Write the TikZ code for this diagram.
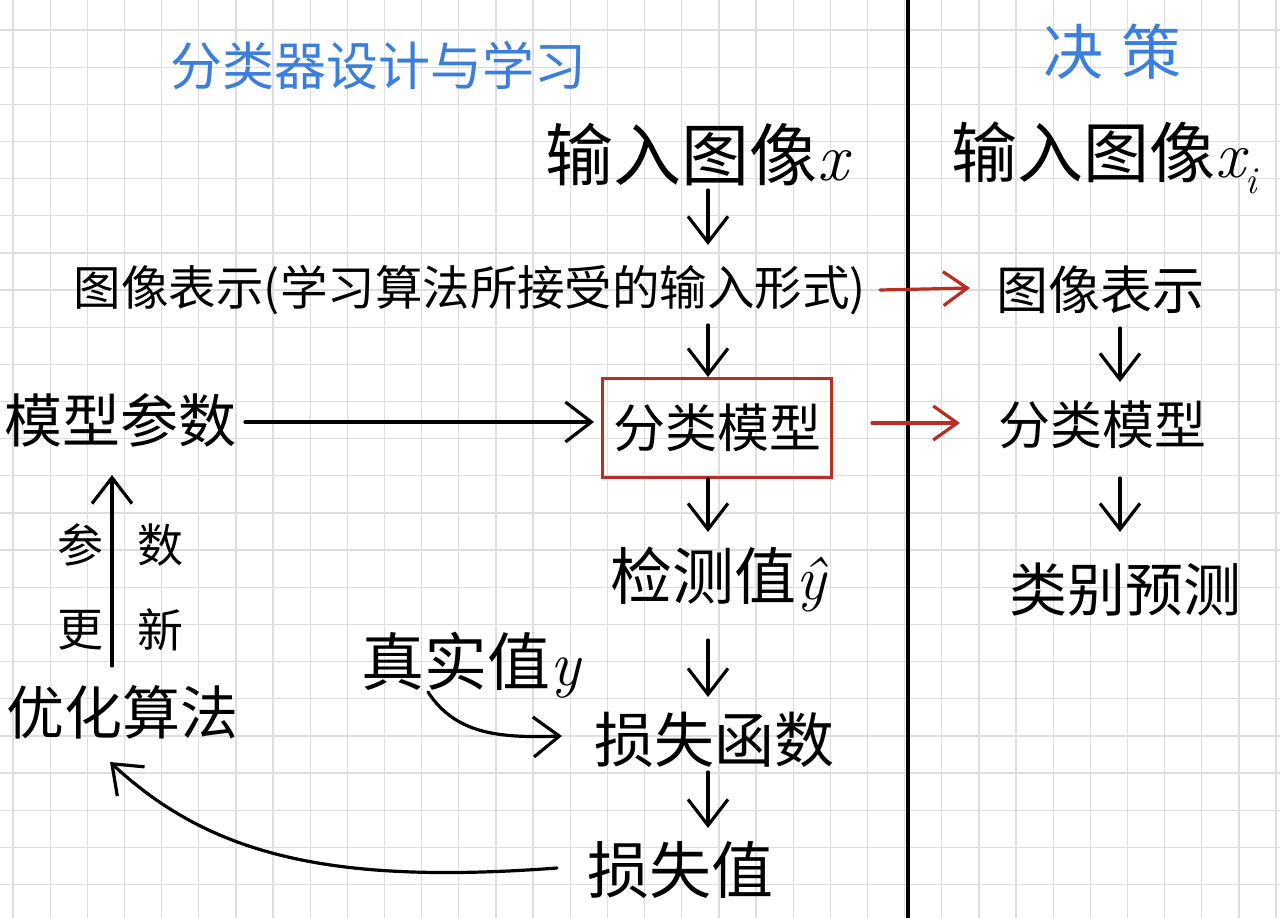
\RequirePackage{fix-cm}
\documentclass[tikz,border=0pt]{standalone}
\usepackage{fontspec}
\newfontfamily\cjk{Noto Sans CJK SC}
\usetikzlibrary{arrows.meta,calc}
\definecolor{hblue}{RGB}{58,126,222}
\definecolor{hred}{RGB}{185,45,35}
\definecolor{gridc}{RGB}{222,222,226}
\begin{document}
\begin{tikzpicture}[x=1pt,y=-1pt,
  fs/.style={font=\cjk\fontsize{#1}{#1}\selectfont, inner sep=0pt},
  ttl/.style={fs=#1, text=hblue},
  arr/.style={draw=black, line width=3.2pt, line cap=round, -{Straight Barb[length=26pt,width=40pt]}},
  rarr/.style={draw=hred, line width=3.2pt, line cap=round, -{Straight Barb[length=24pt,width=34pt]}},
  gridline/.style={draw=gridc, line width=1.3pt},
]
\useasboundingbox (0,0) rectangle (1280,918);
\fill[white] (0,0) rectangle (1280,918);
\foreach \i in {0,...,34} \draw[gridline] ({13+37.15*\i},0) -- ({13+37.15*\i},918);
\foreach \j in {0,...,24} \draw[gridline] (0,{30+37.15*\j}) -- (1280,{30+37.15*\j});
\draw[line width=3.5pt] (908,0) -- (908,918);

% titles
\node[ttl=52] (title) at (378,66) {分类器设计与学习};
\node[ttl=60] (dec) at (1112,52) {决\hspace{18pt}策};

% left column
\node[fs=68] (inx) at (697,155) {输入图像{\rmfamily\itshape x}};
\node[fs=47.5] (rep) at (470,290) {图像表示(学习算法所接受的输入形式)};
\node[fs=52, draw=hred, line width=3pt, minimum width=229pt, minimum height=99pt] (box) at (717,428) {分类模型};
\node[fs=58] (par) at (121,420) {模型参数};
\node[fs=62] (det) at (718,580) {检测值{\rmfamily\itshape ŷ}};
\node[fs=63] (tru) at (471,665) {真实值{\rmfamily\itshape y}};
\node[fs=60] (lossf) at (714,740) {损失函数};
\node[fs=62] (lossv) at (680,870) {损失值};
\node[fs=58] (opt) at (122,712) {优化算法};
\node[fs=46] (u1) at (80,545) {参};
\node[fs=46] (u2) at (160,545) {数};
\node[fs=46] (u3) at (80,630) {更};
\node[fs=46] (u4) at (160,630) {新};

% right column
\node[fs=66] (inxi) at (1104,158) {输入图像{\rmfamily\itshape x\raisebox{-0.25em}{\fontsize{38}{38}\selectfont i}}};
\node[fs=52] (repR) at (1100,290) {图像表示};
\node[fs=52] (modR) at (1102,425) {分类模型};
\node[fs=58] (cls) at (1125,590) {类别预测};

% vertical arrows
\draw[arr] ($(inx)+(11,35)$) -- ($(rep)+(238,-45)$);
\draw[arr] ($(rep)+(238,35)$) -- ($(box.north)+(-9,0)$);
\draw[arr] ($(box.south)+(-9,0)$) -- ($(det)+(-10,-48)$);
\draw[arr] ($(det)+(-10,60)$) -- ($(lossf)+(-6,-43)$);
\draw[arr] ($(lossf)+(-6,32)$) -- ($(lossv)+(28,-42)$);
\draw[arr] ($(repR)+(20,38)$) -- ($(modR)+(18,-43)$);
\draw[arr] ($(modR)+(18,53)$) -- ($(cls)+(-5,-58)$);
% horizontal arrows
\draw[arr] ($(par)+(124,2)$) -- ($(box.west)+(-7,-6)$);
\draw[rarr] ($(rep)+(410,0)$) -- ($(repR)+(-130,-2)$);
\draw[rarr] ($(box.east)+(39,-5)$) -- ($(modR)+(-142,-2)$);
% update arrow
\draw[arr] ($(opt)+(-10,-46)$) -- ($(par)+(-9,55)$);
% curves
\draw[arr] ($(tru)+(-43,27)$) .. controls ($(tru)+(-15,70)$) and ($(tru)+(30,73)$) .. ($(lossf)+(-152,-4)$);
\draw[arr] ($(lossv)+(-123,-2)$) .. controls (330,885) and (210,855) .. ($(opt)+(-12,50)$);
\end{tikzpicture}
\end{document}
